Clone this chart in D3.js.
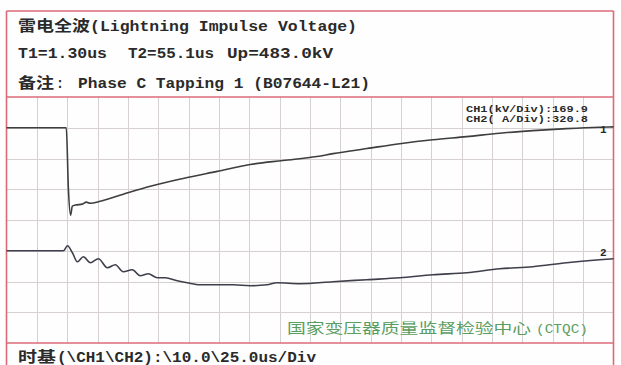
<!DOCTYPE html>
<html>
<head>
<meta charset="utf-8">
<script src="https://cdn.jsdelivr.net/npm/d3@7/dist/d3.min.js"></script>
<style>
  html, body { margin: 0; padding: 0; background: #fff; }
  svg { display: block; }
</style>
</head>
<body>
<script>
// Lightning impulse record: CH1 voltage (kV), CH2 current (A)
const ch1Time = [0, 19.7, 20.4, 21.1, 21.7, 22.7, 25.0, 26.3, 27.6, 30.9, 38.5, 47.4, 58.2, 69.4, 80.3, 91.1, 102.3, 107.6, 118.8, 129.6, 140.5, 151.6, 162.5, 173.4, 184.5, 195.4, 200];
const ch1Volt = [0, 0, -340, -483, -433, -427, -422, -411, -417, -406, -367, -323, -280, -241, -203, -181, -159, -143, -115, -88, -66, -49, -30, -16, -5, 3, 5];

const ch2Time = [0, 46.9, 50.2, 54.3, 58.4, 63.3, 69.1, 75.7, 83.1, 89.6, 96.2, 103.6, 110.2, 116.8, 124.2, 130.8, 140.6, 148.9, 159.5, 186.7, 200.7, 214.6, 222.9, 241.8, 268.9, 296.9, 324.0, 351.2, 379.1, 406.3, 433.4, 461.4, 488.5, 500];
const ch2Amp = [0, 0, 52, -21, -115, -63, -125, -83, -177, -146, -219, -198, -261, -240, -282, -282, -313, -334, -355, -355, -365, -355, -334, -344, -323, -302, -282, -250, -229, -188, -167, -125, -94, -83];

// Scope settings
const ch1PerDiv = 169.9;   // kV/Div
const ch2PerDiv = 320.8;   // A/Div
const ch1TimeDiv = 10.0;   // us/Div
const ch2TimeDiv = 25.0;   // us/Div
const divX = 20, divY = 8;
const ch1Offset = 3, ch2Offset = -1;   // trace baselines, in divisions

const titleText = "(Lightning Impulse Voltage)";
const paramTexts = ["T1=1.30us", "T2=55.1us", "Up=483.0kV"];
const noteText = "Phase C Tapping 1 (B07644-L21)";
const ch1Label = "CH1(kV/Div):169.9";
const ch2Label = "CH2( A/Div):320.8";
const labText = "国家变压器质量监督检验中心";
const timebaseText = "(\\CH1\\CH2):\\10.0\\25.0us/Div";

const W = 621, H = 365;
const plotL = 6.5, plotR = 613.5, plotT = 97, plotB = 343, frameTop = 11;
const red = "#dc6a78";
const ink = "#2a2a2a";
const mono = "'Liberation Mono', 'DejaVu Sans Mono', monospace";
const cjk = "'Noto Sans CJK SC', 'Noto Sans', sans-serif";

const svg = d3.select("body").append("svg").attr("width", W).attr("height", H);
svg.append("rect").attr("width", W).attr("height", H).attr("fill", "#fefefe");

const xDiv = d3.scaleLinear().domain([0, divX]).range([plotL, plotR]);
const yDiv = d3.scaleLinear().domain([divY / 2, -divY / 2]).range([plotT, plotB]);
const x1 = d3.scaleLinear().domain([0, divX * ch1TimeDiv]).range([plotL, plotR]);
const x2 = d3.scaleLinear().domain([0, divX * ch2TimeDiv]).range([plotL, plotR]);
const y1 = v => yDiv(ch1Offset + v / ch1PerDiv);
const y2 = v => yDiv(ch2Offset + v / ch2PerDiv);

// graticule
const grid = svg.append("g").attr("stroke", "#d6d0d0").attr("stroke-width", 1);
grid.selectAll("line.v").data(d3.range(1, divX)).join("line").attr("class", "v")
  .attr("x1", d => Math.round(xDiv(d)) + 0.5).attr("x2", d => Math.round(xDiv(d)) + 0.5)
  .attr("y1", plotT).attr("y2", plotB);
grid.selectAll("line.h").data(d3.range(-divY / 2 + 1, divY / 2)).join("line").attr("class", "h")
  .attr("x1", plotL).attr("x2", plotR)
  .attr("y1", d => Math.round(yDiv(d)) + 0.5).attr("y2", d => Math.round(yDiv(d)) + 0.5);

// frame
const frame = svg.append("g").attr("stroke", red).attr("stroke-width", 1.6).attr("fill", "none");
frame.append("line").attr("x1", plotL).attr("x2", plotR).attr("y1", frameTop).attr("y2", frameTop);
frame.append("line").attr("x1", plotL).attr("x2", plotR).attr("y1", plotT).attr("y2", plotT);
frame.append("line").attr("x1", plotL).attr("x2", plotR).attr("y1", plotB).attr("y2", plotB);
frame.append("line").attr("x1", plotL).attr("x2", plotL).attr("y1", frameTop).attr("y2", H);
frame.append("line").attr("x1", plotR).attr("x2", plotR).attr("y1", frameTop).attr("y2", H);

// traces
const line1 = d3.line().curve(d3.curveMonotoneX).x(d => x1(d[0])).y(d => y1(d[1]));
const line2 = d3.line().curve(d3.curveMonotoneX).x(d => x2(d[0])).y(d => y2(d[1]));
svg.append("path").datum(d3.zip(ch1Time, ch1Volt)).attr("d", line1)
  .attr("fill", "none").attr("stroke", "#3e3e3e").attr("stroke-width", 1.6).attr("stroke-linejoin", "round");
svg.append("path").datum(d3.zip(ch2Time, ch2Amp)).attr("d", line2)
  .attr("fill", "none").attr("stroke", "#3f3f4c").attr("stroke-width", 1.6).attr("stroke-linejoin", "round");

// trace numbers
svg.append("text").attr("x", 600).attr("y", y1(0) + 5).text("1")
  .attr("font-family", mono).attr("font-weight", "bold").attr("font-size", 11).attr("fill", ink);
svg.append("text").attr("x", 600).attr("y", y2(0) + 5).text("2")
  .attr("font-family", mono).attr("font-weight", "bold").attr("font-size", 11).attr("fill", ink);

// helper for fixed-width text
function txt(x, y, s, len, size, fam, color) {
  const t = svg.append("text").attr("x", x).attr("y", y).text(s)
    .attr("font-family", fam).attr("font-weight", "bold")
    .attr("font-size", size).attr("fill", color || ink);
  if (len) t.attr("textLength", len).attr("lengthAdjust", "spacingAndGlyphs");
  return t;
}

// header
txt(18, 31, "雷电全波", 72, 15, cjk);
txt(90, 31, titleText, 267, 14, mono);
txt(18, 58, paramTexts[0], 89, 14, mono);
txt(128, 58, paramTexts[1], 86, 14, mono);
txt(227, 58, paramTexts[2], 106, 14, mono);
txt(18, 88, "备注", 36, 15, cjk);
txt(56, 88, ":", 8, 14, mono);
txt(78, 88, noteText, 292, 14, mono);

// channel scales
txt(466, 112, ch1Label, 122, 9, mono);
txt(466, 122, ch2Label, 122, 9, mono);

// lab name
txt(287, 333, labText, 244, 14, cjk, "#5a9e62").attr("font-weight", "normal");
txt(536, 333, "(CTQC)", 52, 12, mono, "#5a9e62").attr("font-weight", "normal");

// time base
txt(18, 362, "时基", 38, 15, cjk);
txt(57, 362, timebaseText, 259, 14, mono);
</script>
</body>
</html>
